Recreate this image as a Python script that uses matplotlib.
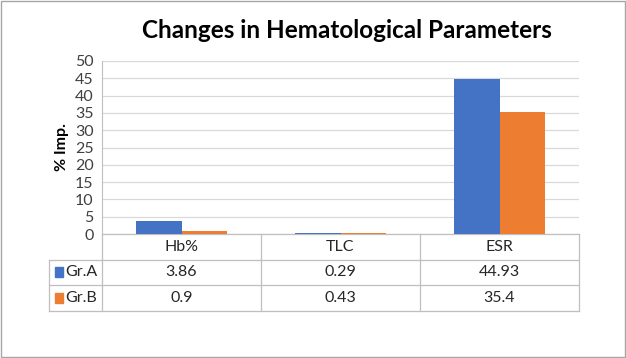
import matplotlib.pyplot as plt
from matplotlib.patches import Rectangle
import numpy as np

plt.rcParams['font.family'] = ['Lato', 'DejaVu Sans']

categories = ["Hb%", "TLC", "ESR"]
groupes = ["Gr.A", "Gr.B"]
gr_a = [3.86, 0.29, 44.93]
gr_b = [0.9, 0.43, 35.4]
valeurs_texte = [["3.86", "0.29", "44.93"], ["0.9", "0.43", "35.4"]]
couleurs = ["#4472C4", "#ED7D31"]
yticks = np.arange(0, 51, 5)

fig = plt.figure(figsize=(6.26, 3.58), dpi=100)
ax = fig.add_axes([102 / 626, 1 - 234 / 358, 477 / 626, 173 / 358])

x = np.arange(len(categories))
largeur = 0.287
ax.bar(x - largeur / 2, gr_a, width=largeur, color=couleurs[0], zorder=3)
ax.bar(x + largeur / 2, gr_b, width=largeur, color=couleurs[1], zorder=3)

ax.set_xlim(-0.5, len(categories) - 0.5)
ax.set_ylim(0, 50)
ax.set_yticks(yticks)
ax.tick_params(axis="y", length=0, labelsize=11.5, pad=6, colors="#404040")
ax.set_xticks([])
ax.grid(axis="y", color="#D9D9D9", linewidth=0.9, zorder=0)
for s in ["top", "right", "bottom"]:
    ax.spines[s].set_visible(False)
ax.spines["left"].set_color("#BFBFBF")
ax.set_ylabel("% Imp.", fontsize=11.5, fontweight="bold", labelpad=4)

# tableau de données sous le graphique
trans = ax.get_xaxis_transform()
h = 25.5 / 173
gauche = -0.5 - 53 / 159
droite = len(categories) - 0.5
gris = "#BFBFBF"
lignes_y = [0, -h, -2 * h, -3 * h]
for k, yy in enumerate(lignes_y):
    x0 = -0.5 if k == 0 else gauche
    ax.plot([x0, droite], [yy, yy], color=gris, lw=0.9, transform=trans, clip_on=False)
for xx in np.arange(-0.5, len(categories), 1.0):
    ax.plot([xx, xx], [0, -3 * h], color=gris, lw=0.9, transform=trans, clip_on=False)
ax.plot([gauche, gauche], [-h, -3 * h], color=gris, lw=0.9, transform=trans, clip_on=False)

for i, c in enumerate(categories):
    ax.text(i, -h / 2, c, ha="center", va="center", fontsize=11.5, transform=trans, color="#262626")
for r, g in enumerate(groupes):
    yc = -h * (r + 1.5)
    for i in range(len(categories)):
        ax.text(i, yc, valeurs_texte[r][i], ha="center", va="center", fontsize=11.5,
                transform=trans, color="#262626")
    ax.text(gauche + 0.1, yc, g, ha="left", va="center", fontsize=11.5, transform=trans, color="#262626")
    ax.add_patch(Rectangle((gauche + 0.035, yc - 0.03), 0.05, 0.06, color=couleurs[r],
                           transform=trans, clip_on=False))

fig.text(0.555, 0.915, "Changes in Hematological Parameters", ha="center", va="center",
         fontsize=17.5, fontweight="bold")

fig.patches.append(Rectangle((0.001, 0.002), 0.997, 0.995, fill=False, edgecolor="#A6A6A6",
                             lw=1, transform=fig.transFigure))

fig.savefig("out.png", dpi=100)
